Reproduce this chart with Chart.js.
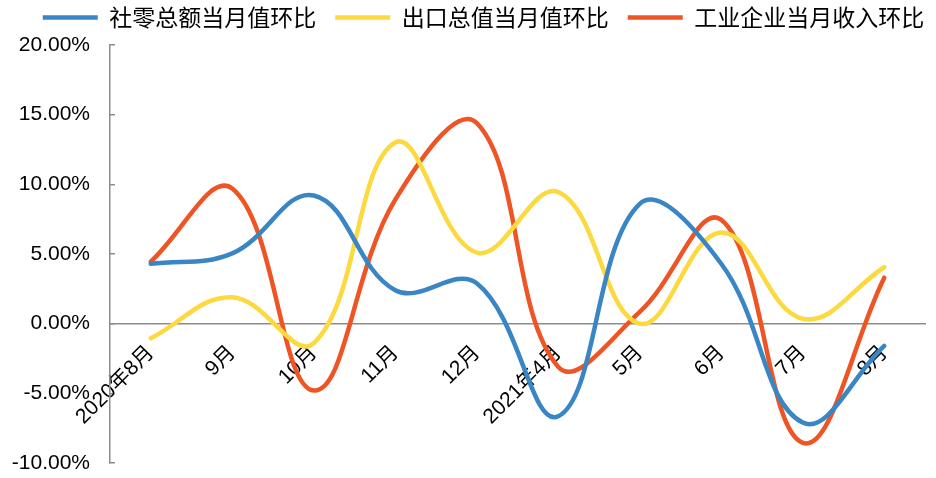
<!DOCTYPE html>
<html>
<head>
<meta charset="utf-8">
<script src="https://cdn.jsdelivr.net/npm/chart.js@4.4.0/dist/chart.umd.min.js"></script>
<style>
  html, body { margin: 0; padding: 0; background: #fff; }
</style>
</head>
<body>
<canvas id="momChart" width="936" height="478"></canvas>
<script>
// month labels on the category axis
const months = ['2020年8月', '9月', '10月', '11月', '12月', '2021年4月', '5月', '6月', '7月', '8月'];
// month-on-month change, in percent
const retailMoM   = [4.3, 5.05, 9.2, 2.4, 2.9, -6.65, 8.6, 4.3, -7.1, -1.6];
const exportMoM   = [-1.05, 1.9, -1.4, 13.0, 5.1, 9.45, 0.0, 6.55, 0.35, 4.05];
const industryMoM = [4.45, 9.7, -4.8, 8.9, 14.4, -3.1, 0.85, 7.45, -8.55, 3.3];
const seriesNames = ['社零总额当月值环比', '出口总值当月值环比', '工业企业当月收入环比'];
const yMin = -10, yMax = 20, yStep = 5;

const axisGray = '#8c8c8c';
const latin = "'Liberation Sans', 'Noto Sans CJK SC', sans-serif";

function lineSet(label, data, color) {
    return {
        label: label,
        data: data,
        borderColor: color,
        backgroundColor: color,
        borderWidth: 4.5,
        borderCapStyle: 'round',
        pointRadius: 0,
        pointHoverRadius: 0,
        tension: 0.4,
        fill: false,
    };
}

// nudge the legend row to where it sits in the original
const legendShift = {
    id: 'legendShift',
    afterLayout(chart) {
        const lg = chart.legend;
        if (lg) {
            lg.left += 21;
            lg.right += 21;
            lg.top -= 6;
            lg.bottom -= 6;
        }
    }
};

const ctx = document.getElementById('momChart').getContext('2d');
new Chart(ctx, {
    type: 'line',
    data: {
        labels: months,
        datasets: [
            lineSet(seriesNames[0], retailMoM, '#3a86c5'),
            lineSet(seriesNames[1], exportMoM, '#fdd940'),
            lineSet(seriesNames[2], industryMoM, '#ef5424'),
        ],
    },
    options: {
        responsive: false,
        animation: false,
        layout: {
            padding: {top: -7, right: 11, bottom: 15, left: 0},
        },
        scales: {
            x: {
                position: {y: 0},
                offset: true,
                grid: {display: false, drawTicks: false},
                border: {display: true, color: axisGray, width: 1.5},
                ticks: {
                    autoSkip: false,
                    minRotation: 45,
                    maxRotation: 45,
                    padding: 17,
                    color: '#000',
                    font: {family: latin, size: 21},
                },
                afterFit(scale) {
                    // rotated labels may hang past the plot edges
                    scale.paddingLeft = 0;
                    scale.paddingRight = 0;
                    scale.paddingTop = 0;
                    scale.paddingBottom = 0;
                },
            },
            y: {
                min: yMin,
                max: yMax,
                grid: {
                    drawOnChartArea: false,
                    drawTicks: true,
                    tickLength: -5,
                    color: axisGray,
                    lineWidth: 1.5,
                },
                border: {color: axisGray, width: 1.5},
                ticks: {
                    stepSize: yStep,
                    padding: 25,
                    color: '#000',
                    font: {family: latin, size: 21},
                    callback: (v) => v.toFixed(2) + '%',
                },
                afterFit(scale) {
                    scale.width = 110;
                    // tick padding is horizontal here, not room above/below
                    scale.paddingTop = 12;
                    scale.paddingBottom = 12;
                },
            },
        },
        plugins: {
            legend: {
                position: 'top',
                labels: {
                    usePointStyle: true,
                    pointStyle: 'line',
                    pointStyleWidth: 55,
                    padding: 19,
                    color: '#000',
                    font: {family: "'Noto Sans CJK SC', sans-serif", size: 23},
                },
            },
            tooltip: {enabled: false},
        },
    },
    plugins: [legendShift],
});
</script>
</body>
</html>
